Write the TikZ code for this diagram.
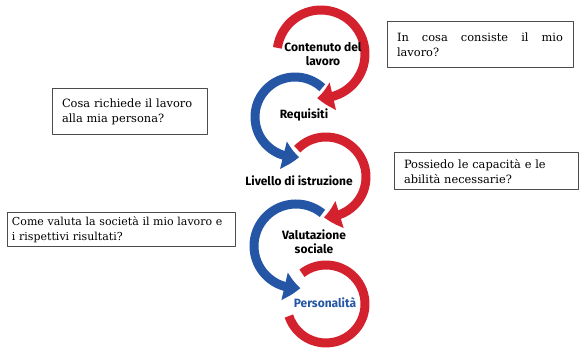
\documentclass[tikz,border=0pt]{standalone}
\usepackage{fontspec}
\setmainfont{DejaVu Serif}
\newfontfamily\labelfont{Fira Sans}
\usetikzlibrary{arrows.meta,bending}
\definecolor{arcred}{RGB}{212,33,46}
\definecolor{arcblue}{RGB}{36,86,165}
\hyphenpenalty=10000
\exhyphenpenalty=10000
\begin{document}
\begin{tikzpicture}[x=1pt,y=1pt,line join=round,
  loop/.style={line width=9pt,-{Triangle[width=27pt,length=16pt,bend]}},
  ring/.style={line width=9pt},
  stage/.style={font=\labelfont\bfseries\fontsize{12}{14}\selectfont,align=center,inner sep=0pt},
  question/.style={draw=black!70,line width=1pt,inner xsep=10pt,inner ysep=3pt,
    font=\fontsize{11.4}{15}\selectfont}]
\useasboundingbox (0,0) rectangle (583,352);
% arcs
\draw[loop,arcred] (321,298) ++(172:44) arc[start angle=172,end angle=-95,radius=44];
\draw[loop,arcblue] (295,235) ++(47:40) arc[start angle=47,end angle=276,radius=40];
\draw[loop,arcred] (326,175) ++(136:40) arc[start angle=136,end angle=-93,radius=40];
\draw[loop,arcblue] (296,106) ++(51:42) arc[start angle=51,end angle=276,radius=42];
\draw[ring,arcred] (326,48) ++(128:39) arc[start angle=128,end angle=-162,radius=39];
% stages
\node[stage] (contenuto) at (323,298) {Contenuto del\\lavoro};
\node[stage] (requisiti) at (304,237) {Requisiti};
\node[stage] (livello) at (299,171) {Livello di istruzione};
\node[stage] (valutazione) at (314,110) {Valutazione\\sociale};
\node[stage,text=arcblue] (personalita) at (325,49) {Personalità};
% questions
\node[question,minimum width=186pt,minimum height=46pt,text width=166pt,align=justify] (cosa) at (480,307) {In cosa consiste il mio lavoro?};
\node[question,minimum width=155pt,minimum height=46pt,text width=135pt,align=left] (richiede) at (129.5,240) {Cosa richiede il lavoro\\alla mia persona?};
\node[question,minimum width=184pt,minimum height=37pt,text width=164pt,align=left] (possiedo) at (486,180.5) {Possiedo le capacità e le\\abilità necessarie?};
\node[question,minimum width=228pt,minimum height=34pt,text width=218pt,inner xsep=5pt,align=left,
  font=\fontsize{11}{15}\selectfont] (valuta) at (121,122) {Come valuta la società il mio lavoro e\\i rispettivi risultati?};
\end{tikzpicture}
\end{document}
